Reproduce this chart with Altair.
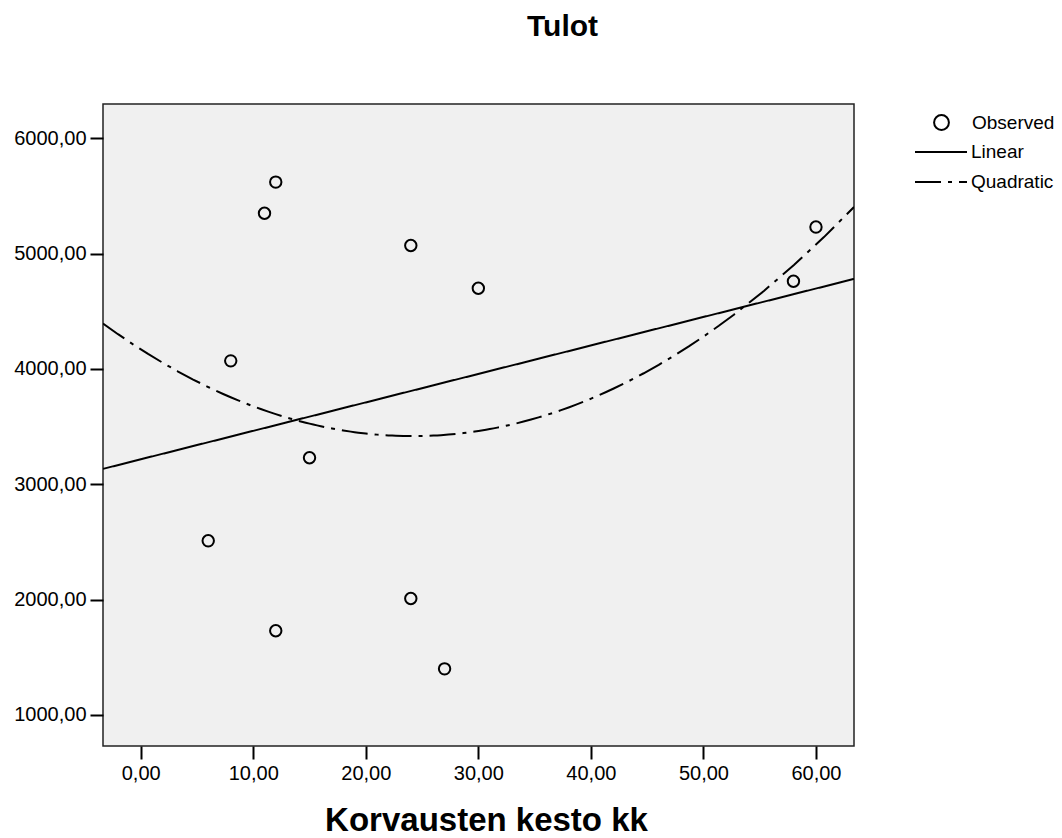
import altair as alt
import pandas as pd

duration = [6, 8, 11, 12, 12, 15, 24, 24, 27, 30, 58, 60]
income = [2510, 4070, 5350, 5620, 1730, 3230, 5070, 2010, 1400, 4700, 4760, 5230]

x_ticks = [0, 10, 20, 30, 40, 50, 60]
y_ticks = [1000, 2000, 3000, 4000, 5000, 6000]
x_domain = [-3.35, 63.38]
y_domain = [731, 6297]

FONT = "Liberation Sans"

df = pd.DataFrame({"x": duration, "y": income, "series": ["Observed"] * len(duration)})

lab_expr = "replace(format(datum.value, '.2f'), '.', ',')"

x_enc = alt.X(
    "x:Q",
    scale=alt.Scale(domain=x_domain, nice=False, zero=False),
    axis=alt.Axis(
        values=x_ticks,
        labelExpr=lab_expr,
        title="Korvausten kesto kk",
        titleFontSize=33,
        titleFontWeight="bold",
        titleX=383,
        titleY=84,
        titleBaseline="alphabetic",
    ),
)
y_enc = alt.Y(
    "y:Q",
    scale=alt.Scale(domain=y_domain, nice=False, zero=False),
    axis=alt.Axis(values=y_ticks, labelExpr=lab_expr, title=None),
)

base = alt.Chart(df)

points = base.mark_point(
    shape="circle", filled=False, stroke="black", strokeWidth=2, size=130, opacity=1
).encode(
    x=x_enc,
    y=y_enc,
    shape=alt.Shape(
        "series:N",
        scale=alt.Scale(domain=["Observed"], range=["circle"]),
        legend=alt.Legend(
            title=None,
            orient="none",
            legendX=829,
            legendY=9,
            padding=0,
            labelOffset=21,
            symbolSize=220,
            symbolStrokeWidth=2,
            symbolStrokeColor="black",
            symbolFillColor="transparent",
        ),
    ),
)

linear = base.transform_regression(
    "x", "y", method="linear", extent=x_domain
).transform_calculate(series="'Linear'")

quad = base.transform_regression(
    "x", "y", method="poly", order=2, extent=x_domain
).transform_calculate(series="'Quadratic'")

dash_enc = alt.StrokeDash(
    "series:N",
    scale=alt.Scale(domain=["Linear", "Quadratic"], range=[[1, 0], [26, 7, 4, 7]]),
    legend=alt.Legend(
        title=None,
        orient="none",
        legendX=811,
        legendY=38,
        padding=0,
        labelOffset=3,
        symbolType="stroke",
        symbolSize=2704,
        symbolStrokeWidth=2,
        symbolStrokeColor="black",
        clipHeight=20,
        rowPadding=10,
    ),
)

line_lin = linear.mark_line(color="black", strokeWidth=2, clip=True).encode(
    x=alt.X("x:Q"), y=alt.Y("y:Q"), strokeDash=dash_enc
)
line_quad = quad.mark_line(color="black", strokeWidth=2, clip=True).encode(
    x=alt.X("x:Q"), y=alt.Y("y:Q"), strokeDash=dash_enc
)

chart = (
    alt.layer(line_lin, line_quad, points)
    .properties(
        width=751,
        height=642,
        autosize=alt.AutoSizeParams(type="none"),
        padding={"left": 103, "top": 104, "right": 208, "bottom": 92},
        title=alt.TitleParams(
            "Tulot",
            fontSize=30,
            fontWeight="bold",
            font=FONT,
            color="black",
            anchor="middle",
            dx=84,
            offset=38,
            baseline="alphabetic",
        ),
        background="white",
    )
    .configure_view(fill="#F0F0F0", stroke="#222222", strokeWidth=1.5)
    .configure_axis(
        domain=False,
        grid=False,
        ticks=True,
        tickSize=13,
        tickWidth=2,
        tickColor="black",
        labelFont=FONT,
        labelFontSize=20,
        labelColor="black",
        labelPadding=4,
        titleFont=FONT,
        titleColor="black",
    )
    .configure_legend(labelFont=FONT, labelFontSize=19, labelColor="black")
)

chart.save("out.html", embed_options={"renderer": "svg", "actions": False})
